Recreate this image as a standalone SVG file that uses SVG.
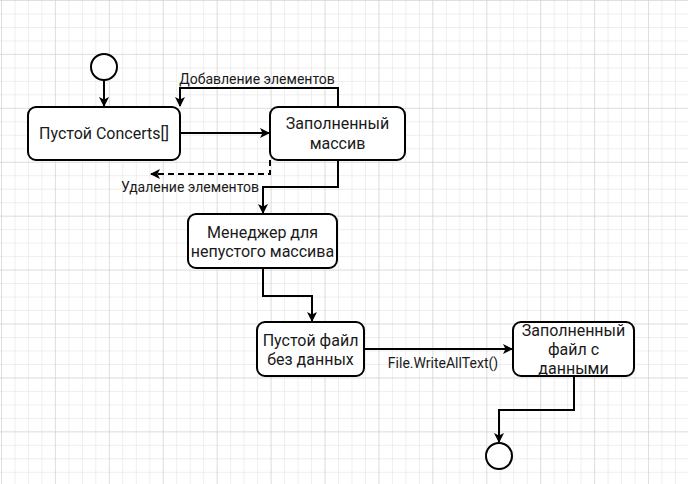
<svg xmlns="http://www.w3.org/2000/svg" width="688" height="484" viewBox="0 0 688 484">
<defs>
<pattern id="minor" x="1" y="0" width="13.48" height="13.48" patternUnits="userSpaceOnUse">
<path d="M0 0V13.48M0 0H13.48" fill="none" stroke="#dedede" stroke-width="1"/>
</pattern>
<pattern id="major" x="1" y="0" width="53.92" height="53.92" patternUnits="userSpaceOnUse">
<path d="M0 0V53.92M0 0H53.92" fill="none" stroke="#d0d0d0" stroke-width="1"/>
</pattern>
<marker id="arr" viewBox="0 0 10 10" refX="9" refY="5" markerWidth="10" markerHeight="10" markerUnits="userSpaceOnUse" orient="auto">
<path d="M0 0L10 5L0 10L2.5 5Z" fill="#000"/>
</marker>
</defs>
<style>
.node{fill:#fff;stroke:#000;stroke-width:2}
.t{font-family:Roboto,"Liberation Sans",sans-serif;font-size:16px;fill:#1a1a1a;text-anchor:middle}
.l{font-family:Roboto,"Liberation Sans",sans-serif;font-size:14px;fill:#1a1a1a;text-anchor:middle}
.c{fill:none;stroke:#000;stroke-width:2}
</style>
<rect width="688" height="484" fill="#fff"/>
<rect width="688" height="484" fill="url(#minor)"/>
<rect width="688" height="484" fill="url(#major)"/>

<g id="connectors">
<path class="c" d="M104 80V106" marker-end="url(#arr)"/>
<path class="c" d="M180 133H269" marker-end="url(#arr)"/>
<path class="c" d="M338 107V88H180V106" marker-end="url(#arr)"/>
<path class="c" d="M270 160V174H151" stroke-dasharray="6 4" marker-end="url(#arr)"/>
<path class="c" d="M338 160V187H263V213" marker-end="url(#arr)"/>
<path class="c" d="M263 268V296H312V321" marker-end="url(#arr)"/>
<path class="c" d="M364 349H512" marker-end="url(#arr)"/>
<path class="c" d="M574 377V410H499V442" marker-end="url(#arr)"/>
<text class="l" x="257" y="84">Добавление элементов</text>
<text class="l" x="190" y="192">Удаление элементов</text>
<text class="l" x="443" y="368">File.WriteAllText()</text>
</g>

<g id="start"><circle class="node" cx="104" cy="67" r="13"/></g>
<g id="empty-array"><rect class="node" x="28" y="107" width="152" height="53" rx="8"/>
<text class="t" x="104" y="139">Пустой Concerts[]</text></g>
<g id="filled-array"><rect class="node" x="270" y="107" width="135" height="53" rx="8"/>
<text class="t" x="337.5" y="129">Заполненный</text><text class="t" x="337.5" y="149">массив</text></g>
<g id="manager"><rect class="node" x="188" y="214" width="149" height="54" rx="8"/>
<text class="t" x="262.5" y="238">Менеджер для</text><text class="t" x="262.5" y="257">непустого массива</text></g>
<g id="empty-file"><rect class="node" x="257" y="322" width="107" height="54" rx="8"/>
<text class="t" x="310.5" y="346">Пустой файл</text><text class="t" x="310.5" y="365">без данных</text></g>
<g id="filled-file"><rect class="node" x="513" y="322" width="121" height="54" rx="8"/>
<text class="t" x="573.5" y="336">Заполненный</text><text class="t" x="573.5" y="355">файл с</text><text class="t" x="573.5" y="374">данными</text></g>
<g id="end"><circle class="node" cx="499" cy="456" r="13"/></g>
</svg>
